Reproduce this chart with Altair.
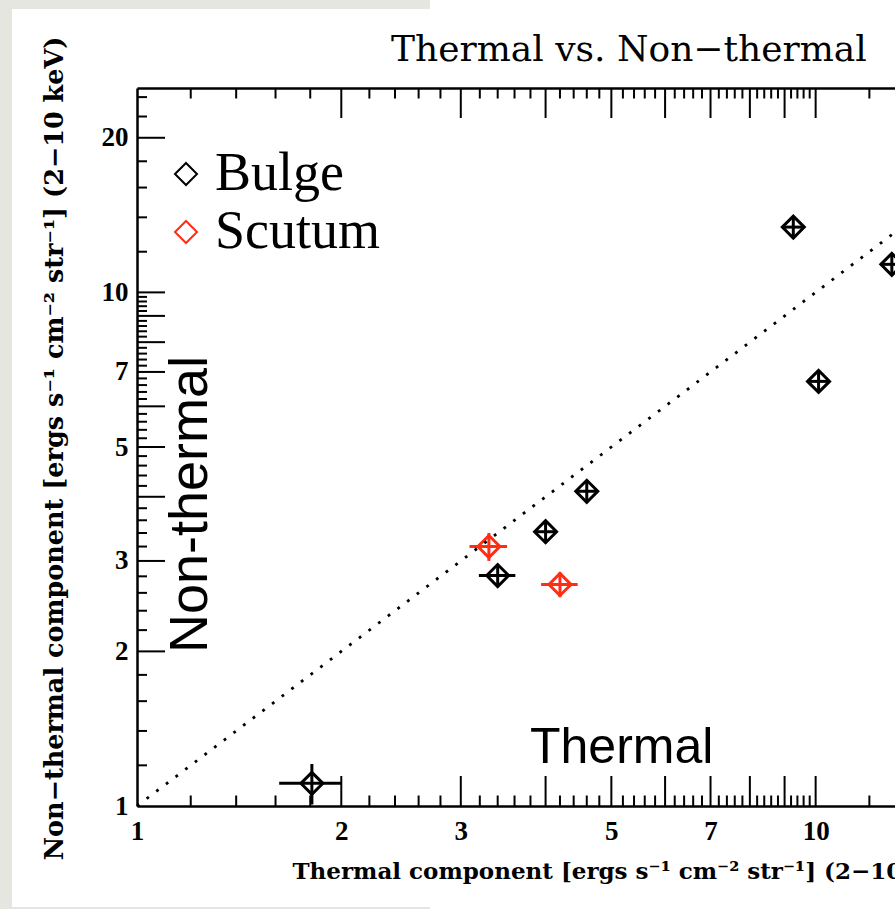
import altair as alt
import pandas as pd

# ---------------- data ----------------
series = ["Bulge", "Scutum", "Bulge", "Bulge", "Bulge", "Scutum", "Bulge", "Bulge", "Bulge"]
thermal = [1.81, 3.30, 3.40, 4.00, 4.60, 4.20, 10.1, 9.27, 12.95]
thermal_err = [0.19, 0.21, 0.21, 0.15, 0.17, 0.26, 0.38, 0.35, 0.50]
nonthermal = [1.107, 3.20, 2.81, 3.42, 4.10, 2.70, 6.71, 13.4, 11.34]
nonthermal_err = [0.10, 0.20, 0.13, 0.17, 0.20, 0.15, 0.33, 0.67, 0.56]

legend_names = ["Bulge", "Scutum"]
legend_colors = ["#000000", "#ff2d14"]

one_to_one = [1, 25]

x_label_values = [1, 2, 3, 5, 7, 10]
y_label_values = [1, 2, 3, 5, 7, 10, 20]
x_major_ticks = [2, 3, 4, 5, 6, 7, 8, 9, 10]
y_major_ticks = [2, 3, 4, 5, 6, 7, 8, 9, 10, 20]
minor_in_decade = [round(d + k * 0.2, 1) for d in range(1, 10) for k in range(1, 5)]
x_minor_ticks = minor_in_decade + [12]
y_minor_ticks = minor_in_decade + [12, 14, 16, 18, 22, 24]

title_text = "Thermal vs. Non\u2212thermal"
x_title = "Thermal component [ergs s\u207b\u00b9 cm\u207b\u00b2 str\u207b\u00b9] (2\u221210 keV)"
y_title = "Non\u2212thermal component [ergs s\u207b\u00b9 cm\u207b\u00b2 str\u207b\u00b9] (2\u221210 keV)"
annot_x_text = "Thermal"
annot_y_text = "Non-thermal"

# ---------------- tables ----------------
df = pd.DataFrame({
    "series": series,
    "x": thermal,
    "y": nonthermal,
    "xlo": [a - b for a, b in zip(thermal, thermal_err)],
    "xhi": [a + b for a, b in zip(thermal, thermal_err)],
    "ylo": [a - b for a, b in zip(nonthermal, nonthermal_err)],
    "yhi": [a + b for a, b in zip(nonthermal, nonthermal_err)],
})
line_df = pd.DataFrame({"v": one_to_one})
xmaj = pd.DataFrame({"v": x_major_ticks})
xmin = pd.DataFrame({"v": x_minor_ticks})
ymaj = pd.DataFrame({"v": y_major_ticks})
ymin = pd.DataFrame({"v": y_minor_ticks})

W, H = 758, 718
xs = alt.Scale(type="log", domain=[1, 13.09], nice=False)
ys = alt.Scale(type="log", domain=[1, 25], nice=False)
cs = alt.Scale(domain=legend_names, range=legend_colors)

LAB_FONT = "Liberation Serif"
TITLE_FONT = "DejaVu Serif"

legend = alt.Legend(
    title=None, orient="none", legendX=22, legendY=59, padding=0,
    symbolType="diamond", symbolSize=484, symbolStrokeWidth=2,
    labelFont=LAB_FONT, labelFontSize=54, labelColor="black", labelLimit=0,
    labelOffset=2, rowPadding=4,
)

x_axis = alt.Axis(
    values=x_label_values, format="d", ticks=False, tickSize=0, grid=False,
    domainColor="black", domainWidth=2.5,
    labelFont=LAB_FONT, labelFontWeight="bold", labelFontSize=27, labelColor="black",
    labelPadding=12, labelFlush=False, labelOverlap=False,
    title=x_title, titleFont=TITLE_FONT, titleFontWeight="bold", titleFontSize=23,
    titleColor="black", titleX=155, titleY=72, titleAlign="left",
    titleBaseline="alphabetic", titleLimit=0,
)
y_axis = alt.Axis(
    values=y_label_values, format="d", ticks=False, tickSize=0, grid=False,
    domainColor="black", domainWidth=2.5,
    labelFont=LAB_FONT, labelFontWeight="bold", labelFontSize=27, labelColor="black",
    labelPadding=9, labelFlush=False, labelOverlap=False,
    title=y_title, titleFont=TITLE_FONT, titleFontWeight="bold", titleFontSize=25.5,
    titleColor="black", titleX=-75, titleY=H / 2 + 1, titleAngle=270,
    titleAlign="center", titleBaseline="alphabetic", titleLimit=0,
)
top_axis = alt.Axis(
    orient="top", labels=False, ticks=False, tickSize=0, grid=False, title=None,
    domainColor="black", domainWidth=2.5,
)

one = alt.Data(values=[{}])

# frame strips of the scanned page
strip = alt.Chart(one).mark_rect(color="#e6e6e1").encode(
    x=alt.value(-137), x2=alt.value(-125), y=alt.value(-88), y2=alt.value(H + 103)
)
strip_top = alt.Chart(one).mark_rect(color="#e6e6e1").encode(
    x=alt.value(-137), x2=alt.value(293), y=alt.value(-88), y2=alt.value(-79)
)
strip_bottom = alt.Chart(one).mark_rect(color="#e6e6e1").encode(
    x=alt.value(-137), x2=alt.value(293), y=alt.value(H + 101), y2=alt.value(H + 103)
)

points = alt.Chart(df).mark_point(
    shape="diamond", filled=False, size=484, strokeWidth=3, opacity=1
).encode(
    x=alt.X("x:Q", scale=xs, axis=x_axis),
    y=alt.Y("y:Q", scale=ys, axis=y_axis),
    color=alt.Color("series:N", scale=cs, legend=legend),
)
xerr = alt.Chart(df).mark_rule(strokeWidth=3).encode(
    x=alt.X("xlo:Q", scale=xs, axis=None), x2="xhi:Q",
    y=alt.Y("y:Q", scale=ys, axis=None),
    color=alt.Color("series:N", scale=cs, legend=legend),
)
yerr = alt.Chart(df).mark_rule(strokeWidth=3).encode(
    x=alt.X("x:Q", scale=xs, axis=None),
    y=alt.Y("ylo:Q", scale=ys, axis=None), y2="yhi:Q",
    color=alt.Color("series:N", scale=cs, legend=legend),
)
diag = alt.Chart(line_df).mark_line(
    color="black", strokeWidth=2.8, strokeDash=[2.8, 9.3], strokeCap="butt"
).encode(
    x=alt.X("v:Q", scale=xs, axis=None),
    y=alt.Y("v:Q", scale=ys, axis=None),
)

def xticks(data, length, top):
    y0 = 0 if top else H
    y1 = length if top else H - length
    ax = top_axis if (top and length > 20) else None
    return alt.Chart(data).mark_rule(color="black", strokeWidth=2).encode(
        x=alt.X("v:Q", scale=xs, axis=ax), y=alt.value(y0), y2=alt.value(y1)
    )

def yticks(data, length):
    return alt.Chart(data).mark_rule(color="black", strokeWidth=2).encode(
        y=alt.Y("v:Q", scale=ys, axis=None), x=alt.value(0), x2=alt.value(length)
    )

title_mark = alt.Chart(one).mark_text(
    font=TITLE_FONT, fontSize=36, align="left", baseline="alphabetic", color="black"
).encode(x=alt.value(254), y=alt.value(-27), text=alt.value(title_text))
ann_x = alt.Chart(one).mark_text(
    font="Liberation Sans", fontSize=50, align="left", baseline="alphabetic", color="black"
).encode(x=alt.value(393), y=alt.value(675), text=alt.value(annot_x_text))
ann_y = alt.Chart(one).mark_text(
    font="Liberation Sans", fontSize=54, align="left", baseline="alphabetic",
    angle=270, color="black"
).encode(x=alt.value(70), y=alt.value(565), text=alt.value(annot_y_text))

chart = alt.layer(
    strip, strip_top, strip_bottom,
    points, xerr, yerr, diag,
    xticks(xmaj, 30, False), xticks(xmin, 10.5, False),
    xticks(xmaj, 30, True), xticks(xmin, 10.5, True),
    yticks(ymaj, 28), yticks(ymin, 10),
    title_mark, ann_x, ann_y,
).resolve_axis(x="independent", y="independent").properties(
    width=W, height=H,
    autosize=alt.AutoSizeParams(type="none"),
    padding={"left": 137, "top": 88, "right": 0, "bottom": 103},
    background="white",
).configure_view(strokeWidth=0)

chart.save("out.html", embed_options={"renderer": "svg", "actions": False})
